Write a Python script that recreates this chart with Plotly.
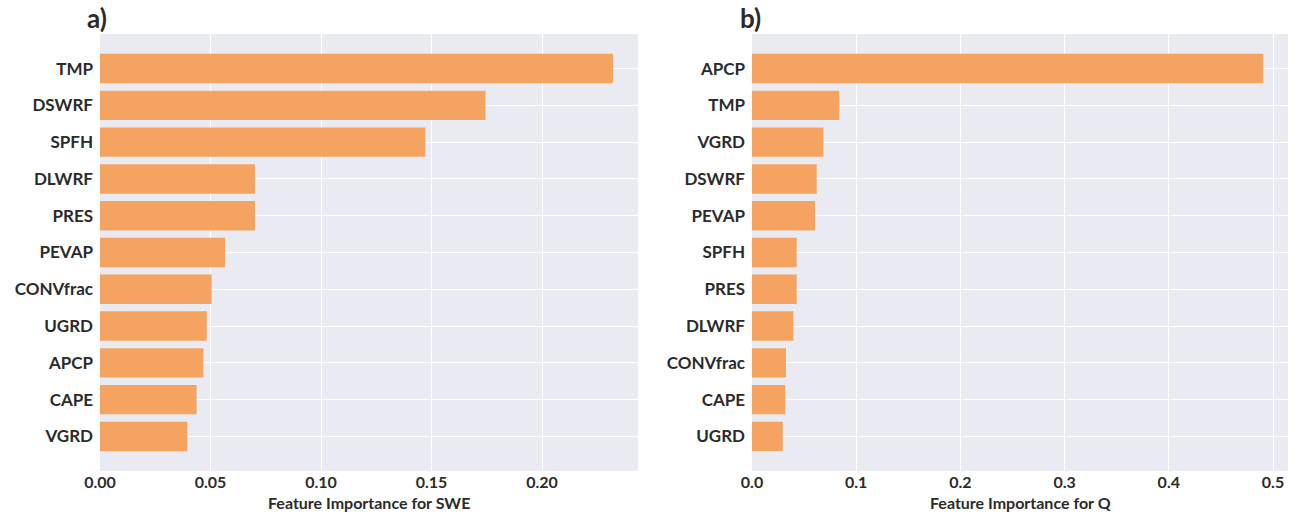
import plotly.graph_objects as go

W, H = 1303, 514

swe_features = ["TMP", "DSWRF", "SPFH", "DLWRF", "PRES", "PEVAP", "CONVfrac", "UGRD", "APCP", "CAPE", "VGRD"]
swe_importance = [0.2321, 0.1744, 0.1472, 0.0701, 0.0701, 0.0566, 0.0505, 0.0483, 0.0468, 0.0437, 0.0395]

q_features = ["APCP", "TMP", "VGRD", "DSWRF", "PEVAP", "SPFH", "PRES", "DLWRF", "CONVfrac", "CAPE", "UGRD"]
q_importance = [0.4907, 0.0838, 0.0685, 0.0621, 0.0605, 0.0429, 0.0429, 0.0397, 0.0326, 0.0320, 0.0295]

swe_ticks = [0.00, 0.05, 0.10, 0.15, 0.20]
q_ticks = [0.0, 0.1, 0.2, 0.3, 0.4, 0.5]

BAR = "#F4A460"
BG = "#EAEAF2"
TXT = "#2b2b2b"
FONT = "Lato"

fig = go.Figure()
fig.add_trace(go.Bar(x=swe_importance, y=swe_features, orientation="h", width=0.8,
                     marker=dict(color=BAR, line=dict(width=0)), xaxis="x", yaxis="y",
                     showlegend=False))
fig.add_trace(go.Bar(x=q_importance, y=q_features, orientation="h", width=0.8,
                     marker=dict(color=BAR, line=dict(width=0)), xaxis="x2", yaxis="y2",
                     showlegend=False))

ydom = [1 - 471 / H, 1 - 34 / H]
yfont = dict(family=FONT, size=17, color=TXT, weight="bold")
xfont = dict(family=FONT, size=16, color=TXT, weight="bold")
grid = dict(showgrid=True, gridcolor="white", gridwidth=1, zeroline=False,
            showline=False, ticks="", automargin=False)

fig.update_layout(
    width=W, height=H, margin=dict(l=0, r=0, t=0, b=0, autoexpand=False),
    paper_bgcolor="white", plot_bgcolor=BG, bargap=0.2,
    font=dict(family=FONT, color=TXT),
    xaxis=dict(domain=[100 / W, 638 / W], range=[0, 0.2434], tickvals=swe_ticks,
               tickformat=".2f", anchor="y", ticklabelstandoff=0, tickfont=xfont, **grid),
    yaxis=dict(domain=ydom, range=[10.94, -0.94], anchor="x", type="category",
               categoryorder="array", categoryarray=swe_features,
               ticklabelstandoff=6, tickfont=yfont, **grid),
    xaxis2=dict(domain=[752 / W, 1288 / W], range=[0, 0.5144], tickvals=q_ticks,
                tickformat=".1f", anchor="y2", ticklabelstandoff=0, tickfont=xfont, **grid),
    yaxis2=dict(domain=ydom, range=[10.94, -0.94], anchor="x2", type="category",
                categoryorder="array", categoryarray=q_features,
                ticklabelstandoff=6, tickfont=yfont, **grid),
)

titles = [("Feature Importance for SWE", (100 + 638) / 2 / W),
          ("Feature Importance for Q", (752 + 1288) / 2 / W)]
for text, xc in titles:
    fig.add_annotation(text=f"<b>{text}</b>", x=xc, y=1 - 502 / H, xref="paper", yref="paper",
                       showarrow=False, xanchor="center", yanchor="middle",
                       font=dict(family=FONT, size=16, color=TXT))

fig.add_annotation(text="<b>a)</b>", x=97 / W, y=1 - 18 / H, xref="paper", yref="paper",
                   showarrow=False, xanchor="center", yanchor="middle",
                   font=dict(family=FONT, size=26, color=TXT))
fig.add_annotation(text="<b>b)</b>", x=750 / W, y=1 - 18 / H, xref="paper", yref="paper",
                   showarrow=False, xanchor="center", yanchor="middle",
                   font=dict(family=FONT, size=26, color=TXT))

fig.write_html("out.html", config={"displayModeBar": False},
               post_script="document.body.style.margin='0';")
